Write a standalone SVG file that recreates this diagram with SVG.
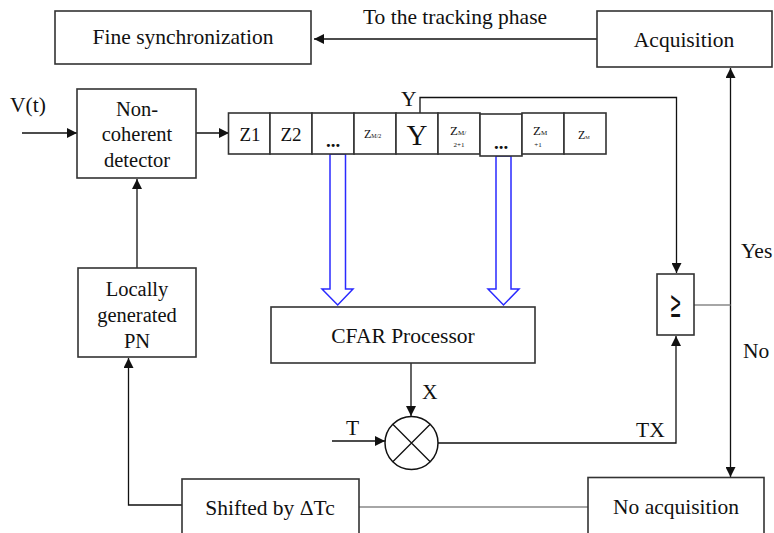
<svg xmlns="http://www.w3.org/2000/svg" width="774" height="533" viewBox="0 0 774 533">
<defs>
<style>
.box{fill:#fff;stroke:#333;stroke-width:1.6}
.ln{fill:none;stroke:#111;stroke-width:1.3}
.gl{fill:none;stroke:#888;stroke-width:1.3}
.bl{fill:#fff;stroke:#2a2aff;stroke-width:1.5}
text{font-family:"Liberation Serif","Times New Roman",serif;fill:#111}
.t{font-size:21.5px}
.d{font-size:20.5px}
.c{text-anchor:middle}
</style>
<marker id="ah" markerWidth="10" markerHeight="10" viewBox="0 0 10 10" refX="10" refY="5" orient="auto" markerUnits="userSpaceOnUse">
<path d="M0,0 L10,5 L0,10 z" fill="#111"/>
</marker>
</defs>
<rect width="774" height="533" fill="#fff"/>

<g id="connectors">
<path class="ln" d="M597,39 L314,39" marker-end="url(#ah)"/>
<path class="ln" d="M22,133 L77,133" marker-end="url(#ah)"/>
<path class="ln" d="M196,133 L229,133" marker-end="url(#ah)"/>
<path class="ln" d="M137,268 L137,179" marker-end="url(#ah)"/>
<path class="ln" d="M182,505 L128.5,505 L128.5,358" marker-end="url(#ah)"/>
<path class="ln" d="M420,113 L420,97.5 L676.5,97.5 L676.5,273" marker-end="url(#ah)"/>
<path class="ln" d="M438,443 L676,443 L676,336" marker-end="url(#ah)"/>
<path class="ln" d="M411,363 L411,416" marker-end="url(#ah)"/>
<path class="ln" d="M332,441 L385,441" marker-end="url(#ah)"/>
<path class="ln" d="M730.5,305 L730.5,68" marker-end="url(#ah)"/>
<path class="ln" d="M730.5,305 L730.5,477" marker-end="url(#ah)"/>
<path class="gl" d="M694,305 L730.5,305"/>
<path class="gl" d="M359,507 L588,507"/>
<path class="bl" d="M330,154 L345.5,154 L345.5,289 L353,289 L337.7,305 L322,289 L330,289 z"/>
<path class="bl" d="M496,156 L511,156 L511,289 L519,289 L503.5,305 L488,289 L496,289 z"/>
</g>

<g id="fine-sync">
<rect class="box" x="55" y="11" width="256" height="53"/>
<text class="t c" x="183" y="44">Fine synchronization</text>
</g>
<text class="t c" x="455" y="24">To the tracking phase</text>

<g id="acquisition">
<rect class="box" x="597" y="11" width="175" height="56"/>
<text class="t c" x="684" y="47">Acquisition</text>
</g>

<text class="t" x="10" y="112">V(t)</text>

<g id="detector">
<rect class="box" x="77" y="89" width="119" height="89"/>
<text class="d c" x="137" y="116">Non-</text>
<text class="d c" x="137" y="141">coherent</text>
<text class="d c" x="137" y="167">detector</text>
</g>

<g id="pn">
<rect class="box" x="78" y="268" width="118" height="89"/>
<text class="d c" x="137" y="296">Locally</text>
<text class="d c" x="137" y="322">generated</text>
<text class="d c" x="137" y="348">PN</text>
</g>

<g id="cells">
<rect class="box" x="228.5" y="113" width="41.5" height="41"/>
<rect class="box" x="270" y="113" width="42" height="41"/>
<rect class="box" x="312" y="113" width="42" height="41"/>
<rect class="box" x="354" y="113" width="42" height="41"/>
<rect class="box" x="396" y="113" width="42" height="41"/>
<rect class="box" x="438" y="113" width="42" height="41"/>
<rect class="box" x="480" y="114" width="42" height="42"/>
<rect class="box" x="522" y="113" width="42" height="41"/>
<rect class="box" x="564" y="113" width="42" height="41"/>
<text class="c" x="250" y="141" style="font-size:19px">Z1</text>
<text class="c" x="291" y="141" style="font-size:19px">Z2</text>
<text class="c" x="333" y="147" style="font-size:19px;font-weight:bold">...</text>
<text x="364" y="138" style="font-size:12px">Z<tspan style="font-size:6px">M/2</tspan></text>
<text class="c" x="417" y="145" style="font-size:29px">Y</text>
<text x="450" y="135" style="font-size:13px">Z<tspan style="font-size:7px">M/</tspan></text>
<text class="c" x="459" y="147" style="font-size:7px">2+1</text>
<text class="c" x="501" y="149" style="font-size:19px;font-weight:bold">...</text>
<text x="533" y="135" style="font-size:13px">Z<tspan style="font-size:7px">M</tspan></text>
<text class="c" x="538" y="147" style="font-size:7px">+1</text>
<text x="578" y="139" style="font-size:12px">Z<tspan style="font-size:5px">M</tspan></text>
</g>
<text class="t" x="401" y="106">Y</text>

<g id="comparator">
<rect class="box" x="657" y="274" width="37" height="61"/>
<text class="c" x="0" y="0" style="font-family:'DejaVu Serif',serif;font-size:20px" transform="translate(675.5,305) scale(0.7,1.9) translate(0,6.5)">≥</text>
</g>

<g id="cfar">
<rect class="box" x="271" y="307" width="264" height="56"/>
<text class="t c" x="403" y="343">CFAR Processor</text>
</g>
<text class="t" x="422" y="399">X</text>

<g id="multiplier">
<circle cx="411.5" cy="443" r="26.5" fill="#fff" stroke="#111" stroke-width="1.5"/>
<path class="ln" d="M392.8,424.3 L430.2,461.7 M430.2,424.3 L392.8,461.7"/>
</g>
<text class="t" x="346" y="435">T</text>
<text class="t" x="636" y="437">TX</text>
<text class="t" x="741" y="258">Yes</text>
<text class="t" x="743" y="358">No</text>

<g id="shifted">
<rect class="box" x="182" y="479" width="177" height="60"/>
<text class="t c" x="270" y="515">Shifted by ΔTc</text>
</g>

<g id="no-acq">
<rect class="box" x="588" y="477.5" width="176" height="62"/>
<text class="t c" x="676" y="514">No acquisition</text>
</g>
</svg>
